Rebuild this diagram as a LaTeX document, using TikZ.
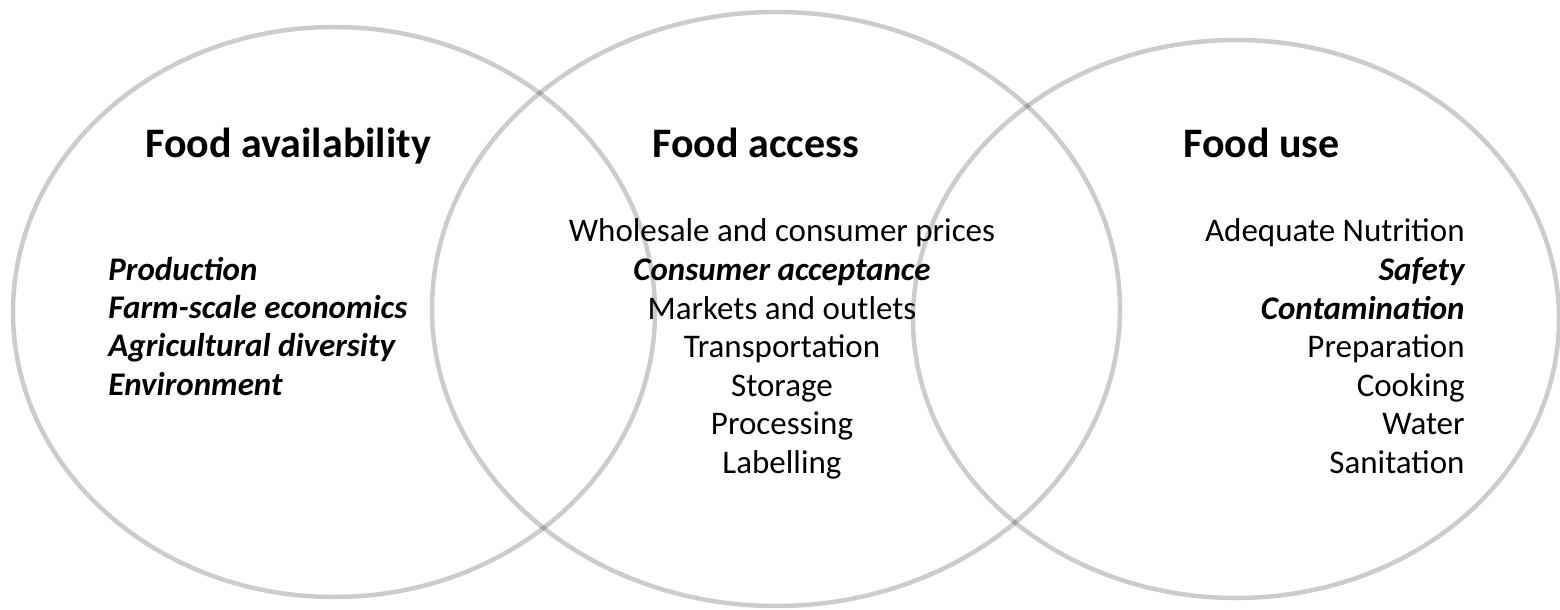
\documentclass[tikz,border=0pt]{standalone}
\usepackage{fontspec}
\setmainfont{Carlito}
\begin{document}
\begin{tikzpicture}[x=0.5pt, y=-0.5pt,
  ring/.style={draw=black, draw opacity=0.2, line width=2.25pt},
  heading/.style={font=\fontsize{21}{25}\selectfont\bfseries, inner sep=0pt, anchor=base west},
  item/.style={font=\fontsize{16.5}{19}\selectfont, inner sep=0pt},
  keyitem/.style={font=\fontsize{16.5}{19}\selectfont\bfseries\itshape, inner sep=0pt}]
\useasboundingbox (0,0) rectangle (1560,610);

% the three overlapping ellipses
\draw[ring] (334,312) ellipse [x radius=160.5pt, y radius=142.5pt];
\draw[ring] (776,309) ellipse [x radius=172pt, y radius=148.5pt];
\draw[ring] (1236,319) ellipse [x radius=161.5pt, y radius=139.5pt];

% headings
\node[heading] (avail) at (145,158) {Food availability};
\node[heading] (access) at (652,158) {Food access};
\node[heading] (use) at (1183,158) {Food use};

% availability factors, left aligned
\node[keyitem, anchor=base west] (av1) at (108,280) {Production};
\node[keyitem, anchor=base west] (av2) at (108,318.5) {Farm-scale economics};
\node[keyitem, anchor=base west] (av3) at (108,357) {Agricultural diversity};
\node[keyitem, anchor=base west] (av4) at (108,395.5) {Environment};

% access factors, centred
\node[item, anchor=base] (ac1) at (782,242) {Wholesale and consumer prices};
\node[keyitem, anchor=base] (ac2) at (782,280.5) {Consumer acceptance};
\node[item, anchor=base] (ac3) at (782,319) {Markets and outlets};
\node[item, anchor=base] (ac4) at (782,357.5) {Transportation};
\node[item, anchor=base] (ac5) at (782,396) {Storage};
\node[item, anchor=base] (ac6) at (782,434.5) {Processing};
\node[item, anchor=base] (ac7) at (782,473) {Labelling};

% use factors, right aligned
\node[item, anchor=base east] (us1) at (1465,242) {Adequate Nutrition};
\node[keyitem, anchor=base east] (us2) at (1465,280.5) {Safety};
\node[keyitem, anchor=base east] (us3) at (1465,319) {Contamination};
\node[item, anchor=base east] (us4) at (1465,357.5) {Preparation};
\node[item, anchor=base east] (us5) at (1465,396) {Cooking};
\node[item, anchor=base east] (us6) at (1465,434.5) {Water};
\node[item, anchor=base east] (us7) at (1465,473) {Sanitation};
\end{tikzpicture}
\end{document}
